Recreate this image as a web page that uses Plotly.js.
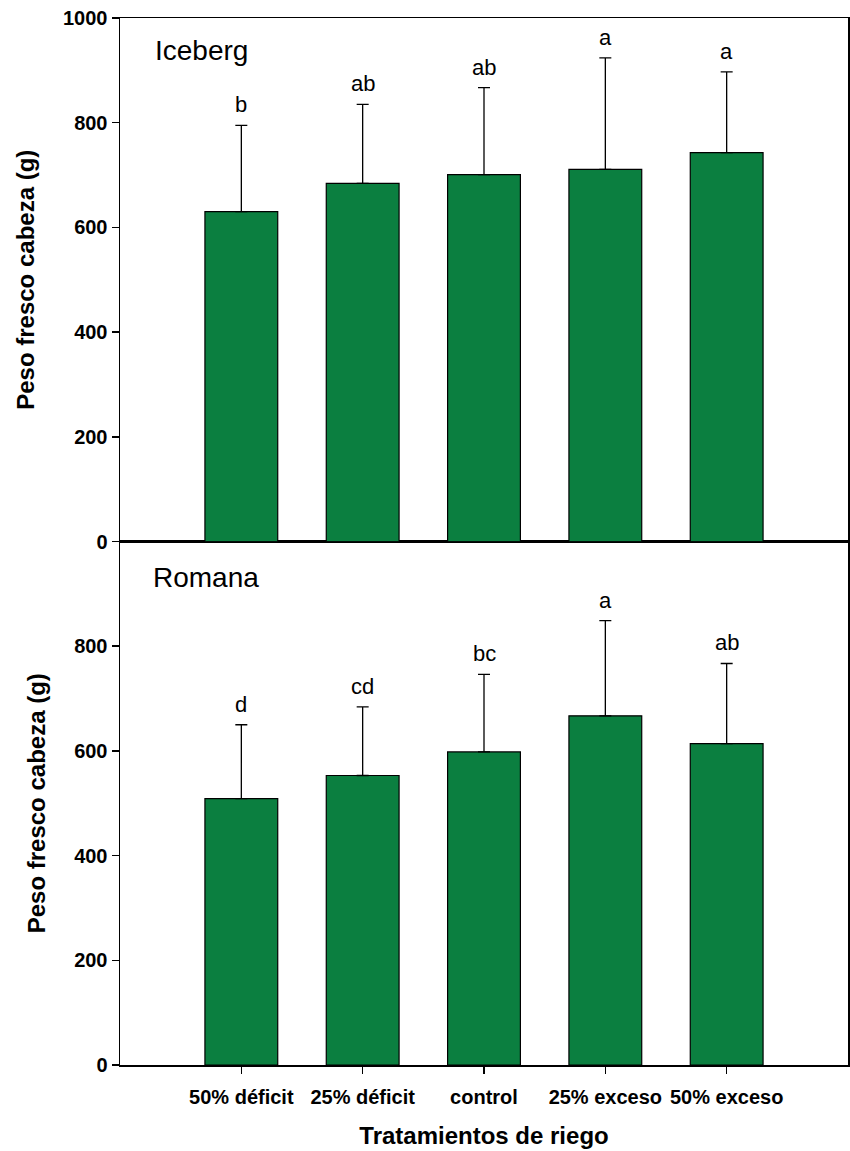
<!DOCTYPE html>
<html>
<head>
<meta charset="utf-8">
<script src="https://cdn.plot.ly/plotly-3.0.1.min.js"></script>
<style>html,body{margin:0;padding:0;background:#fff;}#chart{width:850px;height:1151px;}</style>
</head>
<body>
<div id="chart"></div>
<script>
const categories = ["50% déficit", "25% déficit", "control", "25% exceso", "50% exceso"];
const icebergMeans = [630, 684, 701, 711, 743];
const icebergErr = [165, 151, 166, 213, 154];
const icebergLetters = ["b", "ab", "ab", "a", "a"];
const romanaMeans = [509, 553, 598, 667, 614];
const romanaErr = [141, 131, 148, 182, 153];
const romanaLetters = ["d", "cd", "bc", "a", "ab"];

const green = "#0b7f40";
const fam = "Liberation Sans, Arial, sans-serif";
const xIdx = categories.map((c, i) => i);

const barStyle = {
  type: "bar",
  width: 0.6,
  marker: {color: green, line: {color: "#000", width: 1.2}},
  showlegend: false,
  hoverinfo: "y"
};

const traces = [
  Object.assign({}, barStyle, {
    x: xIdx, y: icebergMeans, xaxis: "x2", yaxis: "y2",
    error_y: {type: "data", symmetric: false, array: icebergErr, arrayminus: icebergErr.map(() => 0), color: "#000", thickness: 1.3, width: 6}
  }),
  Object.assign({}, barStyle, {
    x: xIdx, y: romanaMeans, xaxis: "x", yaxis: "y",
    error_y: {type: "data", symmetric: false, array: romanaErr, arrayminus: romanaErr.map(() => 0), color: "#000", thickness: 1.3, width: 6}
  })
];

const annotations = [];
icebergLetters.forEach((t, i) => annotations.push({
  x: i, y: icebergMeans[i] + icebergErr[i], xref: "x2", yref: "y2", text: t, showarrow: false,
  yanchor: "bottom", yshift: 6, font: {family: fam, size: 22, color: "#000"}
}));
romanaLetters.forEach((t, i) => annotations.push({
  x: i, y: romanaMeans[i] + romanaErr[i], xref: "x", yref: "y", text: t, showarrow: false,
  yanchor: "bottom", yshift: 6, font: {family: fam, size: 22, color: "#000"}
}));
annotations.push({xref: "paper", yref: "paper", x: 0.046, y: 0.969, xanchor: "left", yanchor: "middle",
  text: "Iceberg", showarrow: false, font: {family: fam, size: 28, color: "#000"}});
annotations.push({xref: "paper", yref: "paper", x: 0.042, y: 0.466, xanchor: "left", yanchor: "middle",
  text: "Romana", showarrow: false, font: {family: fam, size: 28, color: "#000"}});

const yCommon = {
  range: [0, 1000], showline: true, linecolor: "#000", linewidth: 1.5, mirror: true,
  ticks: "outside", ticklen: 7, tickwidth: 1.5, tickcolor: "#000", showgrid: false, zeroline: false,
  tickfont: {family: fam, size: 20, color: "#000", weight: "bold"},
  title: {text: "<b>Peso fresco cabeza (g)</b>", font: {family: fam, size: 24, color: "#000"}, standoff: 21}
};

const layout = {
  width: 850, height: 1151,
  margin: {l: 120, r: 2, t: 17.7, b: 86},
  paper_bgcolor: "#fff", plot_bgcolor: "#fff",
  font: {family: fam, color: "#000"},
  xaxis: {
    domain: [0, 1], anchor: "y", range: [-1, 5], tickvals: xIdx, ticktext: categories,
    showline: true, linecolor: "#000", linewidth: 1.5, mirror: true,
    ticks: "outside", ticklen: 7, tickwidth: 1.5, tickcolor: "#000", showgrid: false, zeroline: false,
    ticklabelstandoff: 6,
    tickfont: {family: fam, size: 20, color: "#000", weight: "bold"},
    title: {text: "<b>Tratamientos de riego</b>", font: {family: fam, size: 24, color: "#000"}, standoff: 20}
  },
  xaxis2: {
    domain: [0, 1], anchor: "y2", range: [-1, 5], showticklabels: false, ticks: "",
    showline: true, linecolor: "#000", linewidth: 1.5, mirror: true, showgrid: false, zeroline: false
  },
  yaxis: Object.assign({}, yCommon, {domain: [0, 0.5], anchor: "x", tickvals: [0, 200, 400, 600, 800]}),
  yaxis2: Object.assign({}, yCommon, {domain: [0.5, 1], anchor: "x2", tickvals: [0, 200, 400, 600, 800, 1000]}),
  annotations: annotations
};

Plotly.newPlot("chart", traces, layout, {displayModeBar: false, staticPlot: true});
</script>
</body>
</html>
